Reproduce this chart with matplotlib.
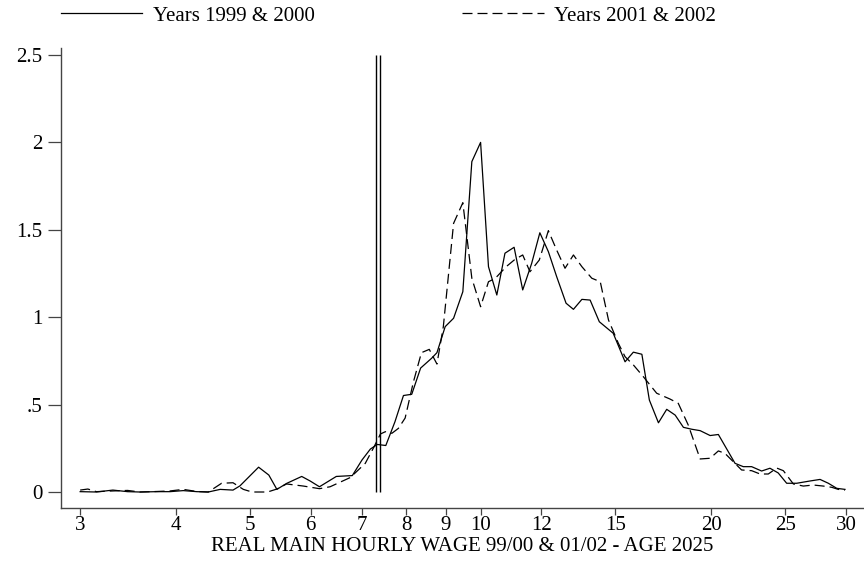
import numpy as np
import matplotlib
matplotlib.use("Agg")
import matplotlib.pyplot as plt

plt.rcParams['font.family'] = ['Liberation Serif', 'DejaVu Serif']

# kernel density of real hourly wage, 1999/2000
wage_9900 = [3.00, 3.15, 3.31, 3.46, 3.59, 3.78, 3.93, 4.09, 4.26, 4.41, 4.57, 4.75,
             4.85, 5.13, 5.29, 5.42, 5.58, 5.84, 5.99, 6.16, 6.48, 6.80, 7.00, 7.18,
             7.33, 7.52, 7.73, 7.93, 8.13, 8.35, 8.63, 8.77, 8.99, 9.22, 9.48, 9.74,
             10.00, 10.24, 10.50, 10.76, 11.06, 11.35, 11.66, 11.95, 12.26, 12.57, 12.93, 13.22,
             13.56, 13.90, 14.29, 14.90, 15.44, 15.83, 16.24, 16.61, 17.07, 17.50, 17.95, 18.40,
             18.87, 19.35, 19.94, 20.44, 21.49, 22.03, 22.59, 23.28, 23.87, 24.47, 25.10, 25.87,
             26.92, 27.75, 28.45, 29.18, 29.91]
dens_9900 = [0.002, 0.000, 0.011, 0.002, 0.000, 0.002, 0.002, 0.008, 0.002, 0.000, 0.015, 0.011,
             0.035, 0.142, 0.097, 0.015, 0.049, 0.089, 0.063, 0.030, 0.089, 0.094, 0.183, 0.246,
             0.272, 0.266, 0.402, 0.552, 0.559, 0.709, 0.765, 0.797, 0.946, 0.994, 1.146, 1.890,
             2.000, 1.289, 1.127, 1.366, 1.400, 1.156, 1.308, 1.483, 1.375, 1.232, 1.080, 1.045,
             1.102, 1.098, 0.974, 0.908, 0.745, 0.800, 0.788, 0.526, 0.396, 0.473, 0.440, 0.370,
             0.359, 0.351, 0.323, 0.329, 0.164, 0.145, 0.145, 0.120, 0.136, 0.109, 0.050, 0.050,
             0.063, 0.072, 0.050, 0.021, 0.015]

# kernel density of real hourly wage, 2001/2002
wage_0102 = [3.00, 3.07, 3.15, 3.31, 3.46, 3.59, 3.78, 3.93, 4.09, 4.26, 4.41, 4.59,
             4.75, 4.90, 5.03, 5.27, 5.42, 5.58, 5.87, 6.16, 6.36, 6.76, 7.07, 7.26,
             7.40, 7.51, 7.66, 7.81, 7.97, 8.17, 8.37, 8.57, 8.77, 8.94, 9.22, 9.48,
             9.74, 10.00, 10.24, 10.45, 10.80, 11.09, 11.35, 11.60, 11.93, 12.26, 12.57, 12.89,
             13.22, 13.56, 13.97, 14.33, 14.69, 15.13, 15.44, 15.83, 16.31, 16.98, 17.67, 18.12,
             18.67, 19.35, 19.94, 20.44, 20.85, 21.38, 21.92, 22.59, 23.17, 23.75, 24.36, 24.85,
             25.61, 26.39, 27.19, 28.02, 28.74, 29.31, 29.91]
dens_0102 = [0.011, 0.017, 0.002, 0.006, 0.009, 0.000, 0.003, 0.006, 0.015, 0.003, 0.000, 0.050,
             0.053, 0.015, 0.000, 0.000, 0.017, 0.046, 0.034, 0.019, 0.030, 0.083, 0.164, 0.259,
             0.332, 0.345, 0.336, 0.364, 0.423, 0.629, 0.797, 0.816, 0.732, 0.946, 1.537, 1.655,
             1.223, 1.060, 1.203, 1.222, 1.289, 1.331, 1.356, 1.260, 1.327, 1.495, 1.384, 1.280,
             1.356, 1.289, 1.223, 1.203, 0.984, 0.851, 0.774, 0.727, 0.660, 0.565, 0.532, 0.507,
             0.383, 0.189, 0.193, 0.235, 0.221, 0.173, 0.126, 0.122, 0.103, 0.103, 0.137, 0.122,
             0.046, 0.034, 0.040, 0.034, 0.027, 0.015, 0.011]

# reference wage levels
ref_wages = [7.30, 7.40]

x_ticks = [3, 4, 5, 6, 7, 8, 9, 10, 12, 15, 20, 25, 30]
y_ticks = [0, 0.5, 1, 1.5, 2, 2.5]
y_labels = ['0', '.5', '1', '1.5', '2', '2.5']

fig = plt.figure(figsize=(8.64, 5.61), dpi=100)
ax = fig.add_axes([61 / 864, 53 / 561, 803 / 864, 460 / 561])

ax.plot(wage_9900, dens_9900, color='black', lw=0.9, label='Years 1999 & 2000')
ax.plot(wage_0102, dens_0102, color='black', lw=0.9, dashes=(8, 4),
        label='Years 2001 & 2002')
ax.vlines(ref_wages, 0, 2.5, color='black', lw=1.0)

ax.set_xscale('log')
ax.set_xlim(2.832, 31.67)
ax.set_ylim(-0.0915, 2.54)
ax.xaxis.set_minor_locator(matplotlib.ticker.NullLocator())
ax.set_xticks(x_ticks)
ax.set_xticklabels([str(t) for t in x_ticks])
ax.set_yticks(y_ticks)
ax.set_yticklabels(y_labels)

for side in ['top', 'right']:
    ax.spines[side].set_visible(False)
for side in ['left', 'bottom']:
    ax.spines[side].set_color('#444444')
    ax.spines[side].set_linewidth(1.0)

ax.tick_params(axis='y', length=9.5, width=0.9, color='#444444', pad=4, labelsize=15)
ax.tick_params(axis='x', length=5, width=0.9, color='#444444', pad=1, labelsize=15)
ax.set_xlabel('REAL MAIN HOURLY WAGE 99/00 & 01/02 - AGE 2025', fontsize=15, labelpad=1)

handles, labels = ax.get_legend_handles_labels()
fig.legend(handles, labels, loc='center left', bbox_to_anchor=(61 / 864, 1 - 16 / 561),
           ncol=2, frameon=False, fontsize=15, handlelength=3.9, handletextpad=0.5,
           columnspacing=7.1, borderpad=0, borderaxespad=0)

fig.savefig('out.png', dpi=100)
